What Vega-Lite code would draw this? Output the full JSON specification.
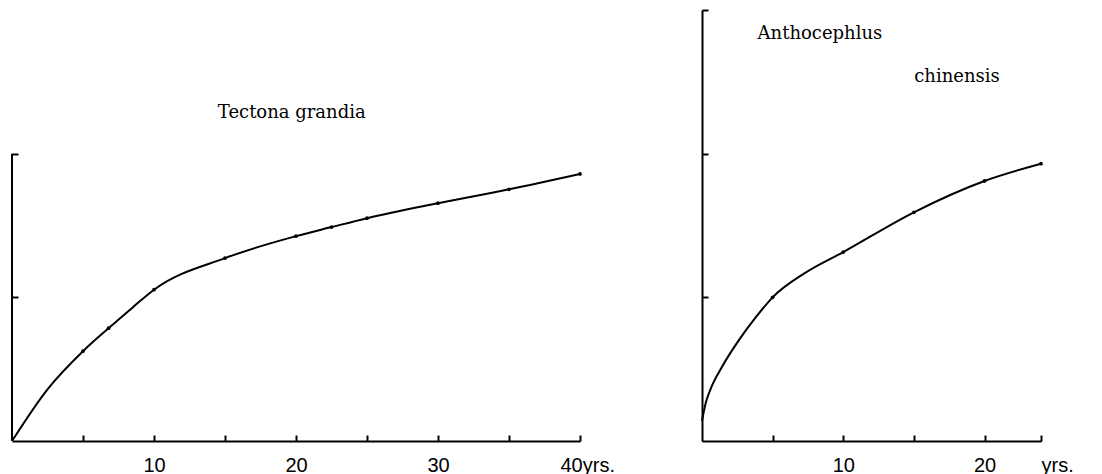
{
  "$schema": "https://vega.github.io/schema/vega-lite/v6.json",
  "background": "white",
  "padding": {"left": 8, "top": 9, "right": 0, "bottom": 0},
  "spacing": 83,
  "config": {
    "view": {"stroke": null},
    "axis": {
      "grid": false,
      "domainColor": "black",
      "domainWidth": 2,
      "tickColor": "black",
      "tickWidth": 2,
      "labelColor": "black",
      "labelFont": "Liberation Sans Narrow, Liberation Sans",
      "labelFontSize": 20,
      "labelFlush": false,
      "labelOverlap": false
    },
    "text": {"font": "DejaVu Serif", "fontSize": 18, "color": "black"}
  },
  "datasets": {
    "teak": [
      {"age": 0, "height": 0, "kind": "curve"},
      {"age": 2.5, "height": 0.36, "kind": "curve"},
      {"age": 5, "height": 0.625, "kind": "point"},
      {"age": 6.8, "height": 0.785, "kind": "point"},
      {"age": 8.5, "height": 0.93, "kind": "curve"},
      {"age": 10, "height": 1.053, "kind": "point"},
      {"age": 15, "height": 1.273, "kind": "point"},
      {"age": 20, "height": 1.426, "kind": "point"},
      {"age": 22.5, "height": 1.489, "kind": "point"},
      {"age": 25, "height": 1.551, "kind": "point"},
      {"age": 30, "height": 1.655, "kind": "point"},
      {"age": 35, "height": 1.752, "kind": "point"},
      {"age": 40, "height": 1.859, "kind": "point"}
    ],
    "antho": [
      {"age": 0, "height": 0.14, "kind": "curve"},
      {"age": 0.25, "height": 0.26, "kind": "curve"},
      {"age": 0.6, "height": 0.36, "kind": "curve"},
      {"age": 1.44, "height": 0.52, "kind": "curve"},
      {"age": 2.6, "height": 0.7, "kind": "curve"},
      {"age": 3.8, "height": 0.86, "kind": "curve"},
      {"age": 5, "height": 1.0, "kind": "point"},
      {"age": 7.3, "height": 1.17, "kind": "curve"},
      {"age": 10, "height": 1.315, "kind": "point"},
      {"age": 15, "height": 1.592, "kind": "point"},
      {"age": 20, "height": 1.81, "kind": "point"},
      {"age": 24, "height": 1.93, "kind": "point"}
    ]
  },
  "hconcat": [
    {
      "width": 568,
      "height": 431,
      "layer": [
        {
          "data": {"values": [{}]},
          "mark": {"type": "rule", "color": "black", "strokeWidth": 2},
          "encoding": {
            "x": {"datum": 0, "type": "quantitative", "scale": {"domain": [0, 40], "nice": false},
              "axis": {"title": null, "values": [5, 10, 15, 20, 25, 30, 35, 40], "tickSize": -6, "labelPadding": 20,
                "labelExpr": "datum.value == 40 ? '40yrs.' : (datum.value % 10 == 0 ? datum.label : '')",
                "labelAlign": {"condition": {"test": "datum.value == 40", "value": "left"}, "value": "center"},
                "labelOffset": {"condition": {"test": "datum.value == 40", "value": -20}, "value": 0}}},
            "y": {"datum": 0, "type": "quantitative", "scale": {"domain": [0, 3], "nice": false},
              "axis": {"title": null, "domain": false, "values": [1, 2], "tickSize": -6, "labels": false}},
            "y2": {"datum": 2}
          }
        },
        {
          "data": {"name": "teak"},
          "mark": {"type": "line", "color": "black", "strokeWidth": 2, "interpolate": "monotone"},
          "encoding": {
            "x": {"field": "age", "type": "quantitative"},
            "y": {"field": "height", "type": "quantitative"}
          }
        },
        {
          "data": {"name": "teak"},
          "transform": [{"filter": "datum.kind == 'point'"}],
          "mark": {"type": "point", "filled": true, "color": "black", "size": 14, "opacity": 1},
          "encoding": {
            "x": {"field": "age", "type": "quantitative"},
            "y": {"field": "height", "type": "quantitative"}
          }
        },
        {
          "data": {"values": [{}]},
          "mark": {"type": "text", "text": "Tectona grandia", "align": "center", "baseline": "middle"},
          "encoding": {
            "x": {"datum": 19.7, "type": "quantitative"},
            "y": {"datum": 2.28, "type": "quantitative"}
          }
        }
      ]
    },
    {
      "width": 339,
      "height": 431,
      "layer": [
        {
          "data": {"name": "antho"},
          "mark": {"type": "line", "color": "black", "strokeWidth": 2, "interpolate": "monotone"},
          "encoding": {
            "x": {"field": "age", "type": "quantitative", "scale": {"domain": [0, 24], "nice": false},
              "axis": {"title": null, "values": [5, 10, 15, 20, 24], "tickSize": -6, "labelPadding": 20,
                "labelExpr": "datum.value == 24 ? 'yrs.' : (datum.value % 10 == 0 ? datum.label : '')",
                "labelAlign": {"condition": {"test": "datum.value == 24", "value": "left"}, "value": "center"}}},
            "y": {"field": "height", "type": "quantitative", "scale": {"domain": [0, 3], "nice": false},
              "axis": {"title": null, "values": [1, 2, 3], "tickSize": -6, "labels": false}}
          }
        },
        {
          "data": {"name": "antho"},
          "transform": [{"filter": "datum.kind == 'point'"}],
          "mark": {"type": "point", "filled": true, "color": "black", "size": 14, "opacity": 1},
          "encoding": {
            "x": {"field": "age", "type": "quantitative"},
            "y": {"field": "height", "type": "quantitative"}
          }
        },
        {
          "data": {"values": [{}]},
          "mark": {"type": "text", "text": "Anthocephlus", "align": "center", "baseline": "middle"},
          "encoding": {
            "x": {"datum": 8.35, "type": "quantitative"},
            "y": {"datum": 2.835, "type": "quantitative"}
          }
        },
        {
          "data": {"values": [{}]},
          "mark": {"type": "text", "text": "chinensis", "align": "center", "baseline": "middle"},
          "encoding": {
            "x": {"datum": 18.05, "type": "quantitative"},
            "y": {"datum": 2.535, "type": "quantitative"}
          }
        }
      ]
    }
  ]
}
